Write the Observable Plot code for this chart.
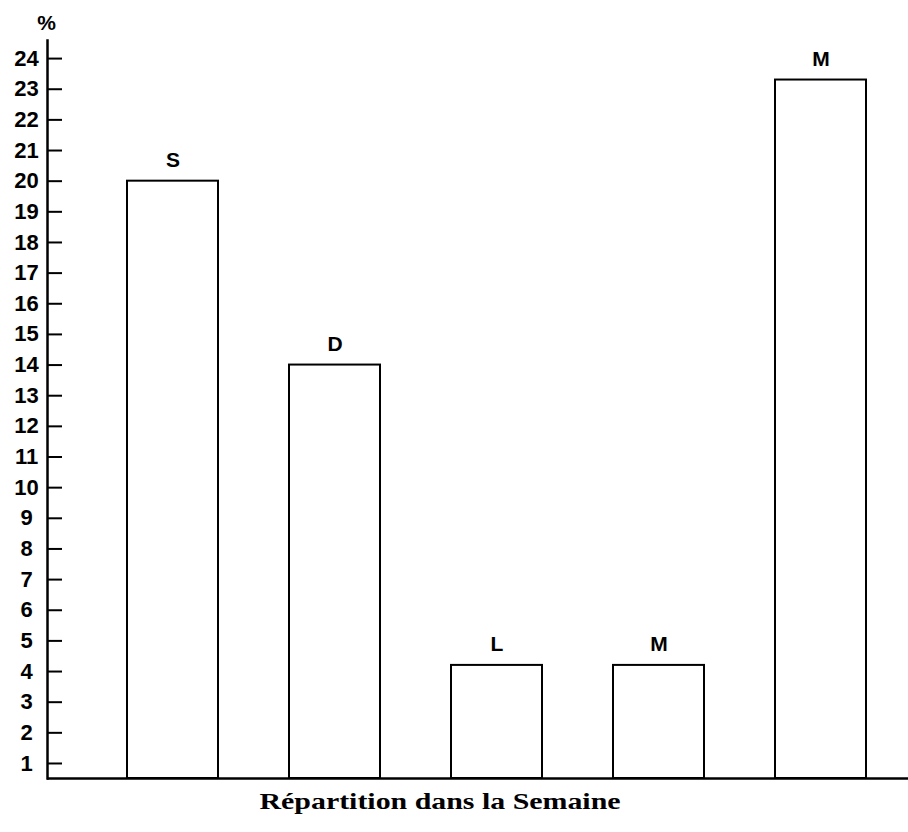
<!DOCTYPE html>
<html><head><meta charset="utf-8">
<script src="https://cdn.jsdelivr.net/npm/d3@7"></script>
<script src="https://cdn.jsdelivr.net/npm/@observablehq/plot@0.6"></script>
<style>body{margin:0;background:#fff}</style>
</head><body><div id="chart"></div>
<script>
const days = ["S", "D", "L", "M", "M"];
const shares = [20, 14, 4.2, 4.2, 23.3];
const yTicks = [1, 2, 3, 4, 5, 6, 7, 8, 9, 10, 11, 12, 13, 14, 15, 16, 17, 18, 19, 20, 21, 22, 23, 24];
const title = "Répartition dans la Semaine";
const unit = "%";

const data = days.map((d, i) => ({i, day: d, share: shares[i]}));
const sans = "'Liberation Sans', Arial, Helvetica, sans-serif";
const serif = "'Liberation Serif', 'Times New Roman', serif";

const chart = Plot.plot({
  width: 908, height: 832,
  marginLeft: 47, marginRight: 0, marginTop: 40, marginBottom: 54,
  style: {fontFamily: sans, background: "white", color: "black"},
  x: {type: "band", domain: data.map(d => d.i), range: [89.6, 903.4], paddingInner: 0.44, paddingOuter: 0.22, axis: null},
  y: {domain: [0.51, 24.59], clamp: true, axis: null},
  marks: [
    Plot.barY(data, {x: "i", y: "share", fill: "white", stroke: "black", strokeWidth: 2}),
    Plot.frame({anchor: "left", stroke: "black", strokeWidth: 2.5}),
    Plot.ruleY([0], {stroke: "black", strokeWidth: 2.5}),
    Plot.ruleY(yTicks, {y: d => d, insetRight: 908 - 47 - 15, stroke: "black", strokeWidth: 2}),
    Plot.text(yTicks, {y: d => d, frameAnchor: "left", dx: -21, textAnchor: "middle", lineAnchor: "middle", fontWeight: "bold", fontSize: 22, fill: "black"}),
    Plot.text([unit], {frameAnchor: "top-left", dx: -1, dy: -17, textAnchor: "middle", lineAnchor: "middle", fontWeight: "bold", fontSize: 21, fill: "black"}),
    Plot.text(data, {x: "i", y: "share", text: "day", dy: -21, lineAnchor: "middle", fontWeight: "bold", fontSize: 21, fill: "black"}),
    Plot.text([title], {frameAnchor: "bottom", dx: -38, dy: 23, textAnchor: "middle", lineAnchor: "middle", fontFamily: serif, fontWeight: "bold", fontSize: 24, fill: "black"})
  ]
});
d3.select(chart).selectAll("text").filter(function() { return this.textContent === title; })
  .attr("textLength", 361).attr("lengthAdjust", "spacingAndGlyphs");
document.getElementById("chart").append(chart);
</script>
</body></html>
